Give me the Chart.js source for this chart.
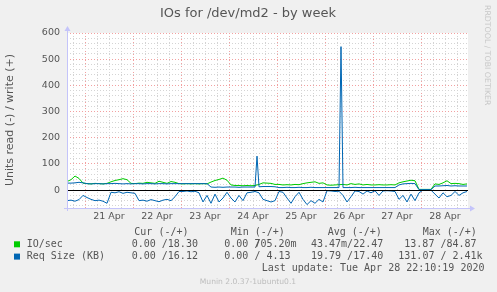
<!DOCTYPE html>
<html>
<head>
<meta charset="utf-8">
<script src="https://cdn.jsdelivr.net/npm/chart.js@4.4.1/dist/chart.umd.min.js"></script>
<style>
  html, body { margin: 0; padding: 0; background: #f0f0f0; }
  #wrap { width: 497px; height: 292px; }
</style>
</head>
<body>
<div id="wrap"><canvas id="ioChart" width="497" height="292"></canvas></div>
<script>
// samples: hours after 21 Apr 00:00, one every 2 hours starting at 20 Apr 15:00
const startHour = -9;
const stepHours = 2;

const dayLabels = ['21 Apr', '22 Apr', '23 Apr', '24 Apr', '25 Apr', '26 Apr', '27 Apr', '28 Apr'];

// IO/sec write (+)
const ioWrite = [
  33, 40, 54, 45, 27,
  25, 24, 26, 25, 24, 26, 32, 37, 40, 44, 40, 26,
  25, 27, 26, 30, 28, 26, 34, 30, 26, 33, 30, 25,
  24, 25, 24, 25, 24, 25, 24, 31, 37, 41, 46, 38,
  20, 18, 18, 17, 18, 17, 18, 22, 28, 27, 26, 22,
  22, 20, 21, 20, 22, 21, 25, 28, 30, 32, 26, 28,
  20, 19, 20, 21, 22, 20, 25, 22, 24, 20, 22, 20,
  20, 21, 20, 20, 21, 20, 28, 32, 35, 38, 36, 3,
  3, 3, 3, 24, 22, 28, 36, 25, 26, 25, 22, 24
];

// Req Size write (+)
const reqWrite = [
  27, 27, 28, 30, 28,
  25, 24, 25, 25, 24, 25, 25, 26, 25, 24, 25, 24,
  25, 25, 24, 25, 25, 24, 25, 25, 24, 25, 25, 25,
  25, 25, 25, 25, 25, 25, 25, 12, 11, 12, 11, 12,
  12, 12, 11, 12, 12, 12, 12, 13, 14, 14, 14, 13,
  10, 10, 11, 10, 10, 11, 10, 10, 11, 10, 10, 10,
  10, 10, 10, 10, 10, 10, 10, 11, 10, 10, 10, 10,
  10, 10, 10, 10, 10, 10, 20, 24, 25, 26, 25, 2,
  2, 2, 2, 16, 16, 17, 18, 16, 17, 16, 16, 16
];
// single-sample peaks of Req Size write: [hour, value]
const reqWriteSpikes = [[86, 130], [128, 548]];

// Req Size read (-)
const reqRead = [
  -40, -38, -42, -36, -20,
  -28, -35, -40, -38, -42, -50, -8, -10, -6, -12, -8, -10,
  -12, -40, -38, -42, -36, -40, -44, -38, -35, -40, -25, -5,
  -5, -3, -6, -4, -10, -45, -20, -50, -15, -45, -30, -8,
  -30, -45, -20, -40, -10, -8, -5, -10, -35, -40, -45, -40,
  -5, -8, -30, -50, -25, -8, -35, -55, -40, -50, -35, -45,
  -2, -3, -5, -4, -20, -45, -25, -3, -5, -15, -3, -10,
  -2, -20, -3, -2, -3, -5, -35, -20, -45, -15, -40, -10,
  0, 0, 0, -15, -30, -10, -25, -20, -5, -20, -10, -5
];

const legendNames = ['IO/sec', 'Req Size (KB)'];
const legendColors = ['#00cc00', '#0066b3'];
const statHeaders = ['Cur (-/+)', 'Min (-/+)', 'Avg (-/+)', 'Max (-/+)'];
const statRows = [
  ['0.00 /18.30', '0.00 /705.20m', '43.47m/22.47', '13.87 /84.87'],
  ['0.00 /16.12', '0.00 / 4.13', '19.79 /17.40', '131.07 / 2.41k']
];
const lastUpdate = 'Last update: Tue Apr 28 22:10:19 2020';
const muninVersion = 'Munin 2.0.37-1ubuntu0.1';

function toPoints(values) {
  return values.map((v, i) => ({ x: startHour + i * stepHours, y: v }));
}

const reqWritePoints = toPoints(reqWrite)
  .concat(reqWriteSpikes.map(([x, y]) => ({ x, y })))
  .sort((a, b) => a.x - b.x);

const majorGrid = '#f2a0a0';
const minorGrid = '#d4d4d4';
const axisColor = '#c4c4fa';
const textColor = '#555';

function line(ctx, x1, y1, x2, y2) {
  ctx.beginPath();
  ctx.moveTo(x1, y1);
  ctx.lineTo(x2, y2);
  ctx.stroke();
}

function text(ctx, str, x, y, font, color, align) {
  ctx.font = font;
  ctx.fillStyle = color;
  ctx.textAlign = align || 'left';
  ctx.textBaseline = 'middle';
  ctx.fillText(str, x, y);
}

// background, zero line, axes with arrows, title and legend
const muninLook = {
  id: 'muninLook',
  beforeDraw(chart) {
    const { ctx, chartArea: a } = chart;
    ctx.save();
    ctx.fillStyle = '#f0f0f0';
    ctx.fillRect(0, 0, chart.width, chart.height);
    ctx.fillStyle = '#ffffff';
    ctx.fillRect(a.left, a.top, a.right - a.left, a.bottom - a.top);
    ctx.restore();
  },
  afterDatasetsDraw(chart) {
    const { ctx, chartArea: a } = chart;
    const y0 = Math.round(chart.scales.y.getPixelForValue(0)) + 0.5;
    ctx.save();
    ctx.strokeStyle = '#000';
    ctx.lineWidth = 1;
    line(ctx, a.left, y0, a.right, y0);
    ctx.restore();
  },
  afterDraw(chart) {
    const { ctx, chartArea: a } = chart;
    ctx.save();

    // axes
    ctx.strokeStyle = axisColor;
    ctx.fillStyle = axisColor;
    ctx.lineWidth = 1;
    line(ctx, a.left + 0.5, a.bottom + 3, a.left + 0.5, a.top - 3);
    line(ctx, a.left - 3, a.bottom + 0.5, a.right + 3, a.bottom + 0.5);
    ctx.beginPath();
    ctx.moveTo(a.left - 2.5, a.top - 2);
    ctx.lineTo(a.left + 3.5, a.top - 2);
    ctx.lineTo(a.left + 0.5, a.top - 7);
    ctx.closePath();
    ctx.fill();
    ctx.beginPath();
    ctx.moveTo(a.right + 2, a.bottom - 2.5);
    ctx.lineTo(a.right + 2, a.bottom + 3.5);
    ctx.lineTo(a.right + 7, a.bottom + 0.5);
    ctx.closePath();
    ctx.fill();

    // title
    text(ctx, 'IOs for /dev/md2 - by week', 248, 13.5, '13px "DejaVu Sans"', textColor, 'center');

    // vertical axis title
    ctx.save();
    ctx.translate(10.5, 120);
    ctx.rotate(-Math.PI / 2);
    text(ctx, 'Units read (-) / write (+)', 0, 0, '11px "DejaVu Sans"', textColor, 'center');
    ctx.restore();

    // watermark
    ctx.save();
    ctx.translate(487, 5);
    ctx.rotate(Math.PI / 2);
    text(ctx, 'RRDTOOL / TOBI OETIKER', 0, 0, '7.8px "DejaVu Sans"', '#c8c8c8', 'left');
    ctx.restore();

    // legend
    const mono = '10px "DejaVu Sans Mono"';
    const charW = 6.02;
    const headerX = [134.3, 230.7, 327.7, 422.7];
    const rowX = [[131.7, 224.3, 311, 404.3], [131.7, 224.3, 311, 398.3]];
    const rowY = [244.3, 256.6];
    statHeaders.forEach((h, i) => text(ctx, h, headerX[i], 232.7, mono, textColor));
    legendNames.forEach((name, r) => {
      ctx.fillStyle = legendColors[r];
      ctx.fillRect(14, rowY[r] - 3, 6, 6);
      text(ctx, name, 26.7, rowY[r], mono, textColor);
      statRows[r].forEach((s, c) => {
        if (r === 0 && c === 1) {
          // rrdtool squeezes this cell: the slash overlaps the next digit
          const cut = s.indexOf('/') + 1;
          text(ctx, s.slice(0, cut), rowX[r][c], rowY[r], mono, textColor);
          text(ctx, s.slice(cut), rowX[r][c] + (cut - 1) * charW, rowY[r], mono, textColor);
        } else {
          text(ctx, s, rowX[r][c], rowY[r], mono, textColor);
        }
      });
    });
    text(ctx, lastUpdate, 261.7, 268.7, mono, textColor);
    text(ctx, muninVersion, 248, 281.7, '7.6px "DejaVu Sans"', '#bdbdbd', 'center');

    ctx.restore();
  }
};

const lineStyle = {
  borderWidth: 1,
  pointRadius: 0,
  tension: 0,
  fill: false
};

const ctx = document.getElementById('ioChart').getContext('2d');
const ioChart = new Chart(ctx, {
  type: 'line',
  data: {
    datasets: [
      Object.assign({ label: 'Req Size write', data: reqWritePoints, borderColor: '#0066b3' }, lineStyle),
      Object.assign({ label: 'Req Size read', data: toPoints(reqRead), borderColor: '#0066b3' }, lineStyle),
      Object.assign({ label: 'IO/sec write', data: toPoints(ioWrite), borderColor: '#00cc00' }, lineStyle)
    ]
  },
  options: {
    responsive: false,
    animation: false,
    layout: { padding: { left: 0, top: 33, right: 29, bottom: 64 } },
    plugins: {
      legend: { display: false },
      title: { display: false },
      tooltip: { enabled: false }
    },
    scales: {
      x: {
        type: 'linear',
        min: -9,
        max: 191.5,
        afterFit: s => { s.height = 20; },
        border: { display: false, dash: [1, 2] },
        grid: {
          drawTicks: false,
          lineWidth: 1,
          color: c => (c.tick && c.tick.value % 24 === 0) ? majorGrid : minorGrid
        },
        ticks: {
          stepSize: 6,
          includeBounds: false,
          autoSkip: false,
          maxRotation: 0,
          padding: 3,
          color: textColor,
          font: { family: 'DejaVu Sans', size: 9.5 },
          callback: v => (v % 24 === 12) ? dayLabels[(v - 12) / 24] : ''
        }
      },
      y: {
        min: -68,
        max: 600,
        afterFit: s => { s.width = 67; },
        border: { display: false, dash: [1, 2] },
        grid: {
          drawTicks: false,
          lineWidth: 1,
          color: c => (c.tick && c.tick.value % 100 === 0) ? majorGrid : minorGrid
        },
        ticks: {
          stepSize: 20,
          includeBounds: false,
          autoSkip: false,
          padding: 7,
          color: textColor,
          font: { family: 'DejaVu Sans', size: 9.5 },
          callback: v => (v % 100 === 0) ? String(v) : ''
        }
      }
    }
  },
  plugins: [muninLook]
});
</script>
</body>
</html>
